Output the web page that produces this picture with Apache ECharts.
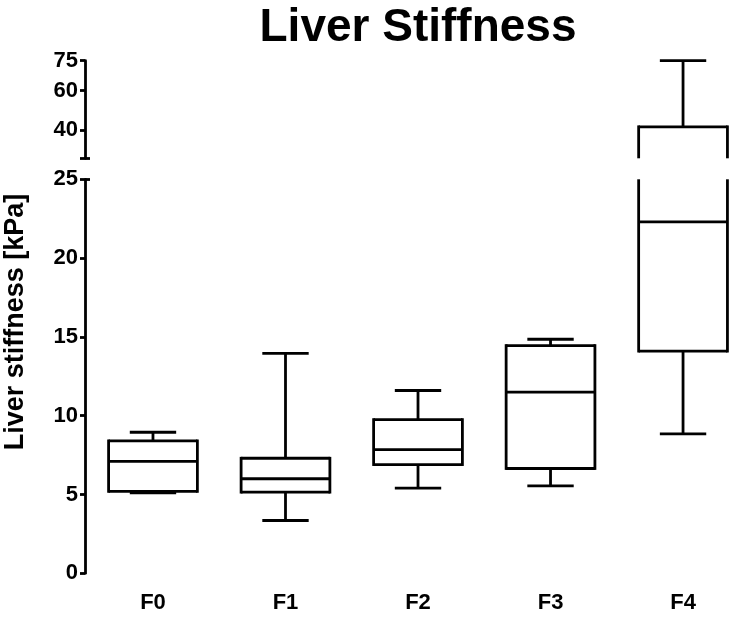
<!DOCTYPE html>
<html>
<head>
<meta charset="utf-8">
<script src="https://cdn.jsdelivr.net/npm/echarts@6/dist/echarts.min.js"></script>
<style>html,body{margin:0;padding:0;background:#fff}#c{width:733px;height:624px}</style>
</head>
<body>
<div id="c"></div>
<script>
const categories = ['F0', 'F1', 'F2', 'F3', 'F4'];
const mins    = [5.1, 3.35, 5.4, 5.55, 8.85];
const q1s     = [5.2, 5.15, 6.9, 6.65, 14.1];
const medians = [7.1, 6.0, 7.85, 11.5, 22.3];
const q3s     = [8.4, 7.3, 9.75, 14.45, 41.8];
const maxs    = [8.95, 13.95, 11.6, 14.85, 75];
const lowerTicks = [0, 5, 10, 15, 20, 25];
const upperTicks = [40, 60, 75];
const lowerRange = [0, 25];
const upperRange = [26, 75];

const FONT = "'Liberation Sans', Arial, Helvetica, sans-serif";
const BOX_W = 0.67;
const CAP_W = 0.35;
const LW = 2.8;

const data = categories.map((c, i) => [i, mins[i], q1s[i], medians[i], q3s[i], maxs[i]]);

function renderBox(params, api) {
  const cs = params.coordSys;
  const yTop = cs.y, yBot = cs.y + cs.height;
  const xv = api.value(0);
  const mn = api.value(1), q1 = api.value(2), md = api.value(3), q3 = api.value(4), mx = api.value(5);
  const cx = api.coord([xv, mn])[0];
  const half = api.size([BOX_W, 0])[0] / 2;
  const capHalf = api.size([CAP_W, 0])[0] / 2;
  const py = v => api.coord([xv, v])[1];
  const inR = p => p >= yTop - 0.5 && p <= yBot + 0.5;
  const clamp = p => Math.min(Math.max(p, yTop), yBot);
  const style = { stroke: '#000', lineWidth: LW, fill: null, lineCap: 'butt' };
  const children = [];
  function seg(x1, y1, x2, y2) {
    children.push({ type: 'line', shape: { x1, y1, x2, y2 }, style });
  }
  function vseg(x, a, b) {
    const ya = clamp(a), yb = clamp(b);
    if (Math.abs(ya - yb) > 0.5) seg(x, ya, x, yb);
  }
  const pMin = py(mn), pQ1 = py(q1), pMd = py(md), pQ3 = py(q3), pMax = py(mx);
  vseg(cx, pMin, pQ1);
  vseg(cx, pQ3, pMax);
  if (inR(pMin)) seg(cx - capHalf, pMin, cx + capHalf, pMin);
  if (inR(pMax)) seg(cx - capHalf, pMax, cx + capHalf, pMax);
  const ext = LW / 2;
  const sTop = inR(pQ3) ? pQ3 - ext : pQ3;
  const sBot = inR(pQ1) ? pQ1 + ext : pQ1;
  vseg(cx - half, sTop, sBot);
  vseg(cx + half, sTop, sBot);
  if (inR(pQ3)) seg(cx - half, pQ3, cx + half, pQ3);
  if (inR(pQ1)) seg(cx - half, pQ1, cx + half, pQ1);
  if (inR(pMd)) seg(cx - half, pMd, cx + half, pMd);
  return { type: 'group', children };
}

const xMin = -0.513, xMax = 4.377;
const axisStyle = { lineStyle: { color: '#000', width: LW } };
const labelStyle = { fontFamily: FONT, fontWeight: 'bold', fontSize: 22, color: '#000', margin: 7 };

const option = {
  animation: false,
  backgroundColor: '#fff',
  title: {
    text: 'Liver Stiffness',
    left: 413, top: 0, textAlign: 'center',
    textStyle: { fontFamily: FONT, fontWeight: 'bold', fontSize: 46, color: '#000' }
  },
  graphic: [{
    type: 'text', x: 16, y: 322, rotation: Math.PI / 2,
    style: { text: 'Liver stiffness [kPa]', fontFamily: FONT, fontWeight: 'bold', fontSize: 27, fill: '#000', align: 'center', verticalAlign: 'middle' }
  }],
  grid: [
    { left: 85, top: 179.3, width: 648, height: 394 },
    { left: 85, top: 60.7, width: 648, height: 97.6 }
  ],
  xAxis: [
    {
      gridIndex: 0, type: 'value', min: xMin, max: xMax,
      axisLine: { show: false }, axisTick: { show: false }, splitLine: { show: false },
      axisLabel: {
        customValues: [0, 1, 2, 3, 4],
        formatter: v => categories[Math.round(v)],
        fontFamily: FONT, fontWeight: 'bold', fontSize: 22, color: '#000', margin: 19
      }
    },
    {
      gridIndex: 1, type: 'value', min: xMin, max: xMax, show: false
    }
  ],
  yAxis: [
    {
      gridIndex: 0, type: 'value', min: lowerRange[0], max: lowerRange[1], interval: 5,
      axisLine: { show: true, onZero: false, ...axisStyle },
      axisTick: { show: true, length: 5, ...axisStyle },
      splitLine: { show: false },
      axisLabel: { customValues: lowerTicks, ...labelStyle }
    },
    {
      gridIndex: 1, type: 'value', min: upperRange[0], max: upperRange[1],
      axisLine: { show: true, onZero: false, ...axisStyle },
      axisTick: { show: true, length: 5, customValues: upperTicks.concat([upperRange[0]]), ...axisStyle },
      splitLine: { show: false },
      axisLabel: { customValues: upperTicks, ...labelStyle }
    },
    {
      gridIndex: 0, type: 'value', min: lowerRange[0], max: lowerRange[1], position: 'left',
      axisLine: { show: false, onZero: false },
      axisTick: { show: true, inside: true, length: 5, customValues: [lowerRange[1]], ...axisStyle },
      splitLine: { show: false }, axisLabel: { show: false }
    },
    {
      gridIndex: 1, type: 'value', min: upperRange[0], max: upperRange[1], position: 'left',
      axisLine: { show: false, onZero: false },
      axisTick: { show: true, inside: true, length: 5, customValues: [upperRange[0]], ...axisStyle },
      splitLine: { show: false }, axisLabel: { show: false }
    }
  ],
  series: [
    { type: 'custom', xAxisIndex: 0, yAxisIndex: 0, renderItem: renderBox, data: data, clip: false },
    { type: 'custom', xAxisIndex: 1, yAxisIndex: 1, renderItem: renderBox, data: data, clip: false }
  ]
};

const chart = echarts.init(document.getElementById('c'), null, { renderer: 'canvas' });
chart.setOption(option);
</script>
</body>
</html>
